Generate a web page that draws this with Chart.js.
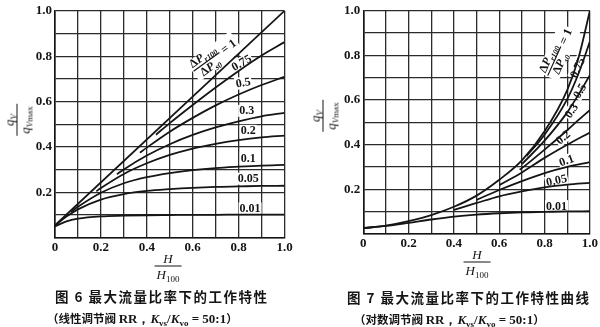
<!DOCTYPE html>
<html>
<head>
<meta charset="utf-8">
<title>最大流量比率下的工作特性</title>
<script src="https://cdn.jsdelivr.net/npm/chart.js@4.4.1/dist/chart.umd.min.js"></script>
<style>
  body { margin: 0; background: #fff; }
  #wrap { position: relative; width: 600px; height: 327px; overflow: hidden; background: #fff; color: #151515; font-family: "Liberation Serif", serif; }
  canvas { position: absolute; top: 0; }
  .frac { position: absolute; display: flex; flex-direction: column; align-items: center; font-style: italic; font-size: 13px; line-height: 13px; white-space: nowrap; }
  .frac .num { padding: 0 2px 1px; }
  .frac .den { border-top: 1px solid #151515; padding: 1px 2px 0; }
  .frac sub, .cap sub { font-size: 9px; line-height: 0; vertical-align: -3px; }
  .ytitle { transform: translate(-50%, -50%) rotate(-90deg); }
  .xtitle { transform: translate(-50%, -50%); }
  .cap { position: absolute; white-space: nowrap; font-family: "Noto Sans CJK SC", sans-serif; font-weight: bold; }
  .cap1 { font-size: 13.5px; line-height: 14px; letter-spacing: 1.5px; }
  .cap2 { font-size: 11.5px; line-height: 12px; }
  .cap2 .lat { font-family: "Liberation Serif", serif; font-size: 13px; }
  .cap2 i { font-style: italic; }
</style>
</head>
<body>
<div id="wrap">
  <canvas id="linChart" width="300" height="262" style="left:0"></canvas>
  <canvas id="eqpChart" width="300" height="262" style="left:300px"></canvas>

  <div class="frac ytitle" style="left:17px; top:120px"><span class="num">q<sub>V</sub></span><span class="den">q<sub>V<span style="font-style:normal">max</span></sub></span></div>
  <div class="frac xtitle" style="left:168px; top:266px"><span class="num">H</span><span class="den">H<sub style="font-style:normal">100</sub></span></div>
  <div class="cap cap1" style="left:55px; top:289px">图 6 最大流量比率下的工作特性</div>
  <div class="cap cap2" style="left:47px; top:312px">（线性调节阀 <span class="lat">RR，<i>K</i><sub>vs</sub>/<i>K</i><sub>vo</sub> = 50:1</span>）</div>

  <div class="frac ytitle" style="left:323px; top:116px"><span class="num">q<sub>V</sub></span><span class="den">q<sub>V<span style="font-style:normal">max</span></sub></span></div>
  <div class="frac xtitle" style="left:477px; top:262px"><span class="num">H</span><span class="den">H<sub style="font-style:normal">100</sub></span></div>
  <div class="cap cap1" style="left:347px; top:290px">图 7 最大流量比率下的工作特性曲线</div>
  <div class="cap cap2" style="left:354px; top:313px">（对数调节阀 <span class="lat">RR，<i>K</i><sub>vs</sub>/<i>K</i><sub>vo</sub> = 50:1</span>）</div>
</div>

<script>
// pressure-drop ratio of each curve, top curve first
const ratioLabels = ['1', '0.75', '0.5', '0.3', '0.2', '0.1', '0.05', '0.01'];
const xTickLabels = [0, 0.2, 0.4, 0.6, 0.8, 1.0];
const yTickLabels = [0.2, 0.4, 0.6, 0.8, 1.0];

// linear valve: [H/H100, qV/qVmax]
const lin100 = [[0, 0.055], [1.0, 1.0]];
const lin75 = [[0.44, 0.454], [0.5, 0.505], [0.6, 0.585], [0.7, 0.662], [0.8, 0.735], [0.9, 0.803], [1.0, 0.862]];
const lin50 = [[0.37, 0.375], [0.4, 0.397], [0.5, 0.467], [0.6, 0.528], [0.7, 0.583], [0.8, 0.631], [0.9, 0.673], [1.0, 0.709]];
const lin30 = [[0.27, 0.280], [0.3, 0.301], [0.4, 0.362], [0.5, 0.412], [0.6, 0.453], [0.7, 0.486], [0.8, 0.513], [0.9, 0.535], [1.0, 0.550]];
const lin20 = [[0.18, 0.205], [0.2, 0.219], [0.3, 0.281], [0.4, 0.328], [0.5, 0.365], [0.6, 0.393], [0.7, 0.414], [0.8, 0.430], [0.9, 0.442], [1.0, 0.450]];
const lin10 = [[0.07, 0.114], [0.1, 0.136], [0.2, 0.198], [0.3, 0.240], [0.4, 0.267], [0.5, 0.285], [0.6, 0.298], [0.7, 0.307], [0.8, 0.313], [0.9, 0.318], [1.0, 0.321]];
const lin05 = [[0, 0.054], [0.05, 0.093], [0.1, 0.125], [0.2, 0.168], [0.3, 0.192], [0.4, 0.206], [0.5, 0.214], [0.6, 0.220], [0.7, 0.224], [0.8, 0.226], [0.9, 0.228], [1.0, 0.229]];
const lin01 = [[0, 0.050], [0.05, 0.072], [0.1, 0.084], [0.2, 0.094], [0.3, 0.097], [0.4, 0.099], [0.5, 0.100], [0.6, 0.101], [0.7, 0.101], [0.8, 0.102], [0.9, 0.102], [1.0, 0.102]];

// equal-percentage valve
const eqp100 = [[0, 0.027], [0.1, 0.038], [0.2, 0.058], [0.3, 0.085], [0.4, 0.122], [0.5, 0.172], [0.6, 0.243], [0.7, 0.330], [0.8, 0.460], [0.9, 0.645], [0.95, 0.790], [1.0, 1.0]];
const eqp75 = [[0.72, 0.349], [0.8, 0.445], [0.9, 0.604], [0.95, 0.719], [1.0, 0.862]];
const eqp50 = [[0.7, 0.313], [0.8, 0.418], [0.9, 0.545], [0.95, 0.625], [1.0, 0.712]];
const eqp30 = [[0.69, 0.288], [0.7, 0.295], [0.8, 0.378], [0.9, 0.465], [0.95, 0.511], [1.0, 0.555]];
const eqp20 = [[0.6, 0.219], [0.7, 0.276], [0.8, 0.341], [0.9, 0.400], [1.0, 0.455]];
const eqp10 = [[0.5, 0.153], [0.6, 0.197], [0.7, 0.237], [0.8, 0.273], [0.9, 0.301], [1.0, 0.322]];
const eqp05 = [[0.4, 0.108], [0.5, 0.139], [0.6, 0.169], [0.7, 0.191], [0.8, 0.209], [0.9, 0.221], [1.0, 0.229]];
const eqp01 = [[0, 0.026], [0.1, 0.036], [0.2, 0.050], [0.3, 0.065], [0.4, 0.078], [0.5, 0.087], [0.6, 0.093], [0.7, 0.097], [0.8, 0.099], [0.9, 0.101], [1.0, 0.102]];

// where the curve names sit (data units) and their tilt in degrees
const linTags = [
  { at: [0.66, 0.775], rot: -36 },
  { at: [0.813, 0.77], rot: -30 },
  { at: [0.82, 0.683], rot: -10 },
  { at: [0.835, 0.559], rot: 0 },
  { at: [0.842, 0.471], rot: 0 },
  { at: [0.842, 0.348], rot: 0 },
  { at: [0.842, 0.26], rot: 0 },
  { at: [0.85, 0.129], rot: 0 }
];
const eqpTags = [
  { at: [0.843, 0.775], rot: -66 },
  { at: [0.946, 0.745], rot: -65 },
  { at: [0.956, 0.641], rot: -60 },
  { at: [0.919, 0.552], rot: -55 },
  { at: [0.882, 0.433], rot: -40 },
  { at: [0.897, 0.329], rot: -20 },
  { at: [0.853, 0.240], rot: -12 },
  { at: [0.853, 0.125], rot: 0 }
];

const INK = '#151515';
const SERIF = '"Liberation Serif", serif';

function tickText(v, shown, skipZero) {
  const r = Math.round(v * 10);
  if (skipZero && r === 0) return '';
  if (!shown.some(t => Math.round(t * 10) === r)) return '';
  return r === 0 ? '0' : (r / 10).toFixed(1);
}

// runs of text with their own font and baseline shift
function runWidth(ctx, runs) {
  return runs.reduce((w, r) => { ctx.font = r[1]; return w + ctx.measureText(r[0]).width; }, 0);
}
function drawRuns(ctx, runs, x, y) {
  runs.forEach(r => {
    ctx.font = r[1];
    ctx.fillText(r[0], x, y + (r[2] || 0));
    x += ctx.measureText(r[0]).width;
  });
}

// the ΔP_r100 / ΔP_s0 = 1 tag on the top curve
function drawRatioTag(ctx) {
  const big = 'italic bold 12px ' + SERIF;
  const up = 'bold 12px ' + SERIF;
  const small = 'italic bold 8px ' + SERIF;
  const num = [['Δ', up], ['P', big], ['r100', small, 3]];
  const den = [['Δ', up], ['P', big], ['s0', small, 3]];
  const eq = [[' = 1', up]];
  const wn = runWidth(ctx, num), wd = runWidth(ctx, den), we = runWidth(ctx, eq);
  const w = Math.max(wn, wd) + 2;
  ctx.fillStyle = '#fff';
  ctx.fillRect(-w / 2 - 1, -11, w + we + 3, 23);
  ctx.fillStyle = INK;
  ctx.textBaseline = 'alphabetic';
  ctx.textAlign = 'left';
  drawRuns(ctx, num, -wn / 2, -3);
  drawRuns(ctx, den, -wd / 2, 10);
  ctx.fillRect(-w / 2, -0.6, w, 1.2);
  drawRuns(ctx, eq, w / 2, 4);
}

const curveTags = {
  id: 'curveTags',
  beforeDatasetsDraw(chart, args, opts) {
    const { ctx, scales: { x, y } } = chart;
    opts.tags.forEach((tag, i) => {
      ctx.save();
      ctx.translate(x.getPixelForValue(tag.at[0]), y.getPixelForValue(tag.at[1]));
      ctx.rotate(tag.rot * Math.PI / 180);
      if (i === 0) {
        drawRatioTag(ctx);
      } else {
        const text = ratioLabels[i];
        ctx.font = 'bold 12px ' + SERIF;
        const w = ctx.measureText(text).width;
        ctx.fillStyle = '#fff';
        ctx.fillRect(-w / 2 - 1, -6, w + 2, 12);
        ctx.fillStyle = INK;
        ctx.textAlign = 'center';
        ctx.textBaseline = 'middle';
        ctx.fillText(text, 0, 0.5);
      }
      ctx.restore();
    });
  }
};

function buildChart(id, curves, tags, area) {
  const canvas = document.getElementById(id);
  const tickFont = { family: SERIF, size: 13, weight: 'bold' };
  const grid = { color: '#2b2b2b', lineWidth: 1.3, drawTicks: false };
  const border = { color: INK, width: 1.6 };

  return new Chart(canvas, {
    type: 'line',
    data: {
      datasets: curves.map((pts, i) => ({
        label: ratioLabels[i],
        data: pts.map(p => ({ x: p[0], y: p[1] })),
        borderColor: INK,
        borderWidth: 1.8,
        pointRadius: 0,
        fill: false,
        cubicInterpolationMode: 'monotone'
      }))
    },
    options: {
      responsive: false,
      animation: false,
      devicePixelRatio: 1,
      layout: { padding: { top: area.top, right: canvas.width - area.right, left: 0, bottom: 0 } },
      plugins: {
        legend: { display: false },
        tooltip: { enabled: false },
        curveTags: { tags: tags }
      },
      scales: {
        x: {
          type: 'linear', min: 0, max: 1,
          afterFit: s => { s.height = canvas.height - area.bottom; },
          ticks: { stepSize: 0.1, autoSkip: false, maxRotation: 0, padding: 2, color: INK, font: tickFont,
                   callback: v => tickText(v, xTickLabels, false) },
          grid: grid, border: border
        },
        y: {
          type: 'linear', min: 0, max: 1,
          afterFit: s => { s.width = area.left; },
          ticks: { stepSize: 0.1, autoSkip: false, padding: 3, color: INK, font: tickFont,
                   callback: v => tickText(v, yTickLabels, true) },
          grid: grid, border: border
        }
      }
    },
    plugins: [curveTags]
  });
}

buildChart('linChart', [lin100, lin75, lin50, lin30, lin20, lin10, lin05, lin01], linTags,
  { left: 55, right: 284.5, top: 9.3, bottom: 237.7 });
buildChart('eqpChart', [eqp100, eqp75, eqp50, eqp30, eqp20, eqp10, eqp05, eqp01], eqpTags,
  { left: 63.3, right: 290, top: 9.3, bottom: 234 });
</script>
</body>
</html>
